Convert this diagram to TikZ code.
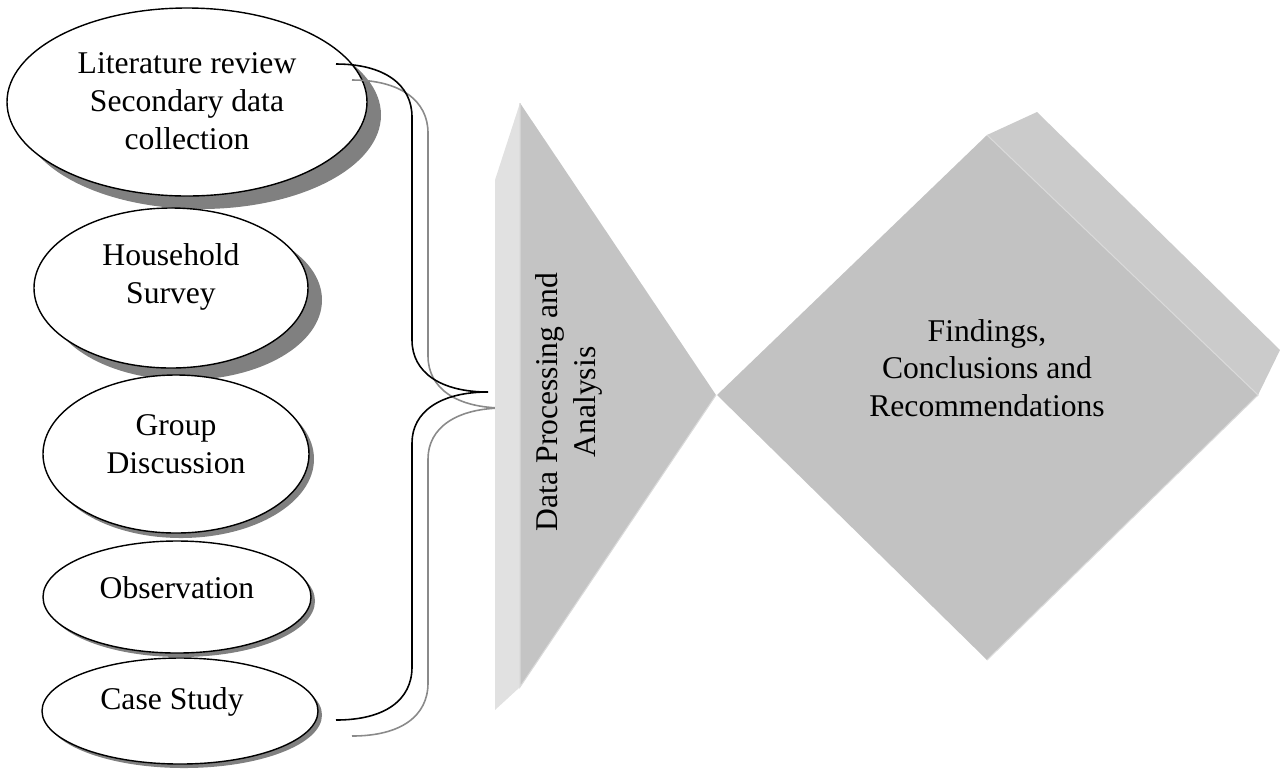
\documentclass[tikz,border=0pt]{standalone}
\usepackage{fontspec}
\setmainfont{Liberation Serif}
\usetikzlibrary{shapes.geometric,shadows}
\definecolor{shadowgray}{HTML}{808080}
\definecolor{bracegray}{HTML}{8A8A8A}
\definecolor{stripgray}{HTML}{E1E1E1}
\definecolor{trigray}{HTML}{C4C4C4}
\definecolor{diagray}{HTML}{C2C2C2}
\definecolor{sidegray}{HTML}{CBCBCB}
\definecolor{edgegray}{HTML}{DADADA}
\newcommand{\px}{0.02cm}
\tikzset{src/.style={ellipse,draw,line width=0.8pt,fill=white,inner sep=0pt},
  shd/.style 2 args={drop shadow={shadow xshift=#1*\px,shadow yshift=-#2*\px,fill=shadowgray,opacity=1}},
  lbl/.style={align=center,inner sep=0pt,font=\fontsize{18}{21.5}\selectfont},
  brc/.style={line width=0.9pt}}

\begin{document}
\begin{tikzpicture}[x=\px,y=-\px]
\useasboundingbox (0,0) rectangle (1280,769);
% data sources
\node[src,shd={14}{13},minimum width=360*\px,minimum height=188*\px] (lit) at (187,102) {};
\node[src,shd={14}{12},minimum width=274*\px,minimum height=160*\px] (hh) at (171,288) {};
\node[src,shd={5}{5},minimum width=266*\px,minimum height=158*\px] (grp) at (176,454) {};
\node[src,shd={4}{4},minimum width=268*\px,minimum height=112*\px] (obs) at (177,597) {};
\node[src,shd={4}{4},minimum width=276*\px,minimum height=106*\px] (cs) at (180,711) {};
\node[lbl] (litT) at (187,101) {Literature review\\Secondary data\\collection};
\node[lbl] (hhT) at (171,277) {Household\\Survey};
\node[lbl] (grpT) at (176,444) {Group\\Discussion};
\node[lbl] (obsT) at (177,588) {Observation};
\node[lbl] (csT) at (172,702) {Case Study};
% brace and its shadow
\foreach \col/\d in {bracegray/16,black/0}
  \draw[brc,\col,shift={(\d,\d)}] (336,64) .. controls (385,64) and (412,85) .. (412,117)
    -- (412,340) .. controls (412,372) and (440,392) .. (488,392)
    .. controls (440,392) and (412,412) .. (412,443)
    -- (412,667) .. controls (412,700) and (385,720) .. (336,720);
% processing
\fill[stripgray] (495,180) -- (520,103) -- (520,687) -- (495,710) -- cycle;
\fill[trigray] (520,103) -- (716,395) -- (520,687) -- cycle;
\draw[edgegray,line width=0.6pt] (520,103) -- (520,687) -- (716,395);
\node[lbl,rotate=90] (dpa) at (569,402) {Data Processing and\\Analysis};
% findings
\fill[sidegray] (987,135) -- (1037,112) -- (1280,350) -- (1258,395) -- cycle;
\fill[diagray] (717,395) -- (987,135) -- (1258,395) -- (987,660) -- cycle;
\draw[edgegray,line width=0.6pt] (987,135) -- (1258,395) -- (987,660);
\node[lbl] (fcr) at (987,368) {Findings,\\Conclusions and\\Recommendations};
\end{tikzpicture}
\end{document}
